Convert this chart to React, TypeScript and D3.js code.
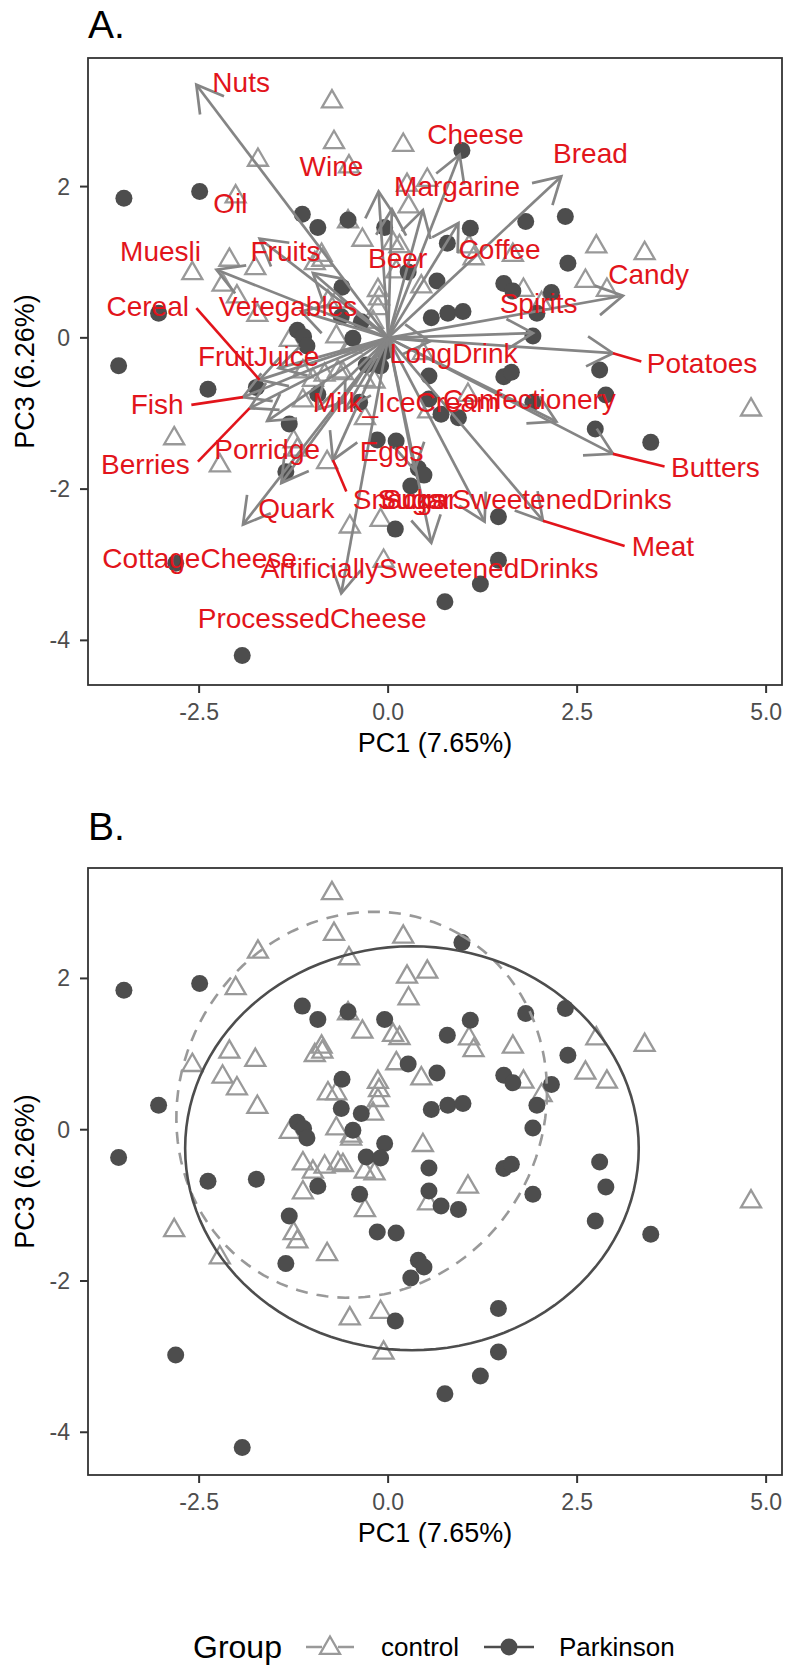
import React from 'react';
import * as d3 from 'd3';

// ---- data (PC1 / PC3 scores) ----
const controlPC1 = [-0.743, -0.716, -1.722, -0.518, 0.2, -2.017, 0.25, 0.518, 0.27, -0.53, -0.34, 0.065, 0.15, -2.1, -1.757, -2.59, -0.88, -0.97, -0.87, 0.108, -2.19, -2.0, -1.73, -0.796, -0.685, -0.135, -0.12, -0.135, -0.2, -1.3, -0.685, -0.487, -0.49, -1.127, -0.995, -0.84, -0.664, -0.598, -0.31, -0.18, -1.127, 1.07, 1.13, 1.65, 2.754, 3.393, 0.439, 1.79, 2.03, 2.61, 2.894, 0.46, 1.056, -0.306, 0.529, -2.83, -1.25, -1.2, -0.807, -2.226, -0.507, -0.1, -0.06, 4.8];
const controlPC3 = [3.124, 2.586, 2.352, 2.264, 2.55, 1.868, 2.02, 2.087, 1.735, 1.537, 1.294, 1.25, 1.21, 1.03, 0.92, 0.853, 1.095, 0.985, 1.03, 0.876, 0.7, 0.545, 0.3, 0.479, 0.479, 0.63, 0.52, 0.39, 0.21, -0.03, 0.016, -0.08, -0.12, -0.447, -0.558, -0.49, -0.447, -0.47, -0.558, -0.58, -0.83, 1.206, 1.05, 1.095, 1.206, 1.118, 0.677, 0.632, 0.456, 0.751, 0.632, -0.205, -0.756, -1.065, -0.976, -1.33, -1.37, -1.48, -1.647, -1.69, -2.497, -2.41, -2.95, -0.95];

const parkinsonPC1 = [-3.495, -2.493, -1.135, -0.93, -0.53, -0.046, 0.265, -0.61, -3.036, -0.62, -0.355, -0.466, -1.2, -1.118, -1.074, -0.046, -0.289, -0.1, -3.565, -2.383, -1.743, -0.93, -0.377, 0.976, 1.087, 0.783, 1.82, 2.344, 2.378, 0.646, 1.53, 1.65, 2.16, 0.571, 0.79, 0.99, 1.968, 1.915, 0.54, 1.53, 1.63, 2.798, 2.88, 0.54, 0.7, 0.93, 1.915, 2.74, 3.474, -1.308, -0.144, 0.106, -1.353, 0.4, 0.474, 0.3, 1.459, 0.095, -2.81, 1.459, 1.22, 0.751, -1.93];
const parkinsonPC3 = [1.845, 1.934, 1.634, 1.458, 1.558, 1.458, 0.87, 0.668, 0.324, 0.28, 0.214, -0.007, 0.1, 0.016, -0.108, -0.183, -0.36, -0.373, -0.368, -0.68, -0.655, -0.747, -0.853, 2.476, 1.448, 1.25, 1.537, 1.603, 0.985, 0.751, 0.72, 0.62, 0.598, 0.267, 0.324, 0.347, 0.324, 0.024, -0.505, -0.513, -0.456, -0.426, -0.756, -0.81, -1.01, -1.056, -0.853, -1.206, -1.382, -1.14, -1.352, -1.365, -1.77, -1.726, -1.815, -1.96, -2.365, -2.529, -2.98, -2.94, -3.256, -3.49, -4.2];

// loadings (arrow tips) and repelled label positions, in PC units
const varNames = ['Nuts', 'Cheese', 'Bread', 'Wine', 'Oil', 'Margarine', 'Muesli', 'Fruits', 'Beer', 'Coffee', 'Candy', 'Cereal', 'Vetegables', 'Spirits', 'FruitJuice', 'LongDrink', 'Potatoes', 'Fish', 'Milk_IceCream', 'Confectionery', 'Berries', 'Porridge', 'Eggs', 'Butters', 'Quark', 'Snacks', 'Sugar', 'SugarSweetenedDrinks', 'Meat', 'CottageCheese', 'ArtificiallySweetenedDrinks', 'ProcessedCheese'];
const tipPC1 = [-2.537, 0.946, 2.29, -0.126, -0.995, 0.46, -2.27, -1.7, 0.05, 0.93, 3.106, -1.7, -1.15, 1.915, -1.45, 0.55, 2.974, -1.92, -0.95, 2.225, -1.832, -1.6, -0.575, 2.974, -1.413, -0.73, 0.35, 1.276, 2.048, -1.92, 0.571, -0.62];
const tipPC3 = [3.347, 2.42, 2.134, 1.935, 0.856, 1.69, 0.9, 1.31, 1.7, 1.517, 0.556, -0.556, 0.35, 0.062, -0.4, -0.05, -0.203, -0.784, -0.95, -1.107, -0.93, -1.1, -0.952, -1.534, -1.92, -1.614, -1.75, -2.43, -2.417, -2.47, -2.71, -3.377];
const labelPC1 = [-1.944, 1.155, 2.676, -0.75, -2.086, 0.913, -3.01, -1.358, 0.126, 1.475, 3.446, -3.18, -1.325, 1.99, -1.713, 0.867, 4.153, -3.056, 0.238, 1.87, -3.21, -1.6, 0.046, 4.33, -1.214, 0.14, 0.42, 1.806, 3.635, -2.493, 0.55, -1.005];
const labelPC3 = [3.373, 2.685, 2.443, 2.266, 1.78, 2.0, 1.14, 1.14, 1.05, 1.164, 0.833, 0.414, 0.414, 0.459, -0.247, -0.203, -0.335, -0.886, -0.86, -0.82, -1.68, -1.48, -1.504, -1.72, -2.253, -2.143, -2.143, -2.143, -2.76, -2.914, -3.05, -3.71];

// ggrepel segments: label side end point, in PC units
const segVars = ['Cereal', 'Fish', 'Berries', 'Potatoes', 'Butters', 'Meat', 'Snacks'];
const segFromPC1 = [-2.537, -2.603, -2.516, 3.349, 3.657, 3.128, -0.553];
const segFromPC3 = [0.393, -0.886, -1.636, -0.313, -1.702, -2.751, -2.033];

// stat_ellipse outlines: centre, semi axes, rotation (deg)
const groups = ['control', 'Parkinson'];
const ellipseCx = [-0.35, 0.315];
const ellipseCy = [0.33, -0.245];
const ellipseA = [2.6, 3.0];
const ellipseB = [2.4, 2.67];
const ellipseRot = [60, 0];

const xTicks = [-2.5, 0, 2.5, 5];
const xTickLabels = ['-2.5', '0.0', '2.5', '5.0'];
const yTicks = [-4, -2, 0, 2];
const yTickLabels = ['-4', '-2', '0', '2'];

const FONT = '"Liberation Sans", Arial, Helvetica, sans-serif';
const DARK = '#4d4d4d';
const LIGHT = '#999999';
const ARROW = '#858585';
const RED = '#e2141b';

const W = 786;
const H = 1665;
const left = 88;
const right = 782;

const x = d3.scaleLinear().domain([-3.97, 5.21]).range([left, right]);
const yA = d3.scaleLinear().domain([-4.59, 3.7]).range([685, 58]);
const yB = d3.scaleLinear().domain([-4.565, 3.46]).range([1475, 868]);

function tri(cx: number, cy: number, s = 10) {
  return `M${cx},${cy - s * 1.15} L${cx + s},${cy + s * 0.58} L${cx - s},${cy + s * 0.58} Z`;
}

function Points({ y }: { y: d3.ScaleLinear<number, number> }) {
  return (
    <g>
      {controlPC1.map((v, i) => (
        <path key={'c' + i} d={tri(x(v), y(controlPC3[i]))} fill="none" stroke={LIGHT} strokeWidth={2.3} />
      ))}
      {parkinsonPC1.map((v, i) => (
        <circle key={'p' + i} cx={x(v)} cy={y(parkinsonPC3[i])} r={8.5} fill={DARK} />
      ))}
    </g>
  );
}

function Frame({ y, title, titleY }: { y: d3.ScaleLinear<number, number>; title: string; titleY: number }) {
  const [y0, y1] = y.range();
  const top = Math.min(y0, y1);
  const bottom = Math.max(y0, y1);
  const mid = (top + bottom) / 2;
  return (
    <g fontFamily={FONT}>
      <text x={left} y={titleY} fontSize={39} fill="#000">{title}</text>
      <rect x={left} y={top} width={right - left} height={bottom - top} fill="none" stroke="#333" strokeWidth={1.8} />
      {xTicks.map((t, i) => (
        <g key={'x' + i}>
          <line x1={x(t)} x2={x(t)} y1={bottom} y2={bottom + 8} stroke="#333" strokeWidth={2} />
          <text x={x(t)} y={bottom + 27} textAnchor="middle" dominantBaseline="central" fontSize={23} fill={DARK}>{xTickLabels[i]}</text>
        </g>
      ))}
      {yTicks.map((t, i) => (
        <g key={'y' + i}>
          <line x1={left - 8} x2={left} y1={y(t)} y2={y(t)} stroke="#333" strokeWidth={2} />
          <text x={left - 18} y={y(t)} textAnchor="end" dominantBaseline="central" fontSize={23} fill={DARK}>{yTickLabels[i]}</text>
        </g>
      ))}
      <text x={(left + right) / 2} y={bottom + 58} textAnchor="middle" dominantBaseline="central" fontSize={27} fill="#000">PC1 (7.65%)</text>
      <text transform={`translate(25,${mid}) rotate(-90)`} textAnchor="middle" dominantBaseline="central" fontSize={27} fill="#000">PC3 (6.26%)</text>
    </g>
  );
}

function Arrows() {
  const ox = x(0);
  const oy = yA(0);
  const head = 30;
  const ang = Math.PI / 6;
  return (
    <g stroke={ARROW} strokeWidth={2.7} fill="none" strokeLinecap="butt">
      {varNames.map((n, i) => {
        const tx = x(tipPC1[i]);
        const ty = yA(tipPC3[i]);
        const a = Math.atan2(oy - ty, ox - tx);
        const h1 = [tx + head * Math.cos(a + ang), ty + head * Math.sin(a + ang)];
        const h2 = [tx + head * Math.cos(a - ang), ty + head * Math.sin(a - ang)];
        return (
          <g key={n}>
            <line x1={ox} y1={oy} x2={tx} y2={ty} />
            <polyline points={`${h1[0]},${h1[1]} ${tx},${ty} ${h2[0]},${h2[1]}`} />
          </g>
        );
      })}
    </g>
  );
}

function Labels() {
  return (
    <g fontFamily={FONT}>
      {segVars.map((n, i) => {
        const k = varNames.indexOf(n);
        return (
          <line key={n} x1={x(segFromPC1[i])} y1={yA(segFromPC3[i])} x2={x(tipPC1[k])} y2={yA(tipPC3[k])} stroke={RED} strokeWidth={2.6} />
        );
      })}
      {varNames.map((n, i) => (
        <text key={n} x={x(labelPC1[i])} y={yA(labelPC3[i])} textAnchor="middle" dominantBaseline="central" fontSize={28} fill={RED}>{n}</text>
      ))}
    </g>
  );
}

function Ellipses() {
  const line = d3.line<[number, number]>().x(d => x(d[0])).y(d => yB(d[1]));
  const steps = d3.range(0, 361, 3).map(d => (d * Math.PI) / 180);
  return (
    <g fill="none">
      {groups.map((g, i) => {
        const r = (ellipseRot[i] * Math.PI) / 180;
        const pts = steps.map(t => {
          const ex = ellipseA[i] * Math.cos(t);
          const ey = ellipseB[i] * Math.sin(t);
          return [ellipseCx[i] + ex * Math.cos(r) - ey * Math.sin(r), ellipseCy[i] + ex * Math.sin(r) + ey * Math.cos(r)] as [number, number];
        });
        return (
          <path key={g} d={line(pts) || ''} stroke={i === 0 ? LIGHT : DARK} strokeWidth={2.6} strokeDasharray={i === 0 ? '12 9' : undefined} />
        );
      })}
    </g>
  );
}

function Legend() {
  const cy = 1647;
  return (
    <g fontFamily={FONT}>
      <text x={193} y={cy} dominantBaseline="central" fontSize={32} fill="#000">Group</text>
      <line x1={306} x2={354} y1={cy} y2={cy} stroke={LIGHT} strokeWidth={2.6} strokeDasharray="16 16" />
      <path d={tri(330, cy + 1)} fill="#fff" stroke={LIGHT} strokeWidth={2.3} />
      <text x={381} y={cy} dominantBaseline="central" fontSize={26} fill="#000">control</text>
      <line x1={484} x2={534} y1={cy} y2={cy} stroke={DARK} strokeWidth={2.6} />
      <circle cx={509} cy={cy} r={8.5} fill={DARK} />
      <text x={559} y={cy} dominantBaseline="central" fontSize={26} fill="#000">Parkinson</text>
    </g>
  );
}

export default function App() {
  return (
    <div>
      <style>{'body{margin:0}'}</style>
      <svg width={W} height={H} style={{ display: 'block', background: '#fff' }}>
        <Frame y={yA} title="A." titleY={38} />
        <Points y={yA} />
        <Arrows />
        <Labels />
        <Frame y={yB} title="B." titleY={840} />
        <Points y={yB} />
        <Ellipses />
        <Legend />
      </svg>
    </div>
  );
}
